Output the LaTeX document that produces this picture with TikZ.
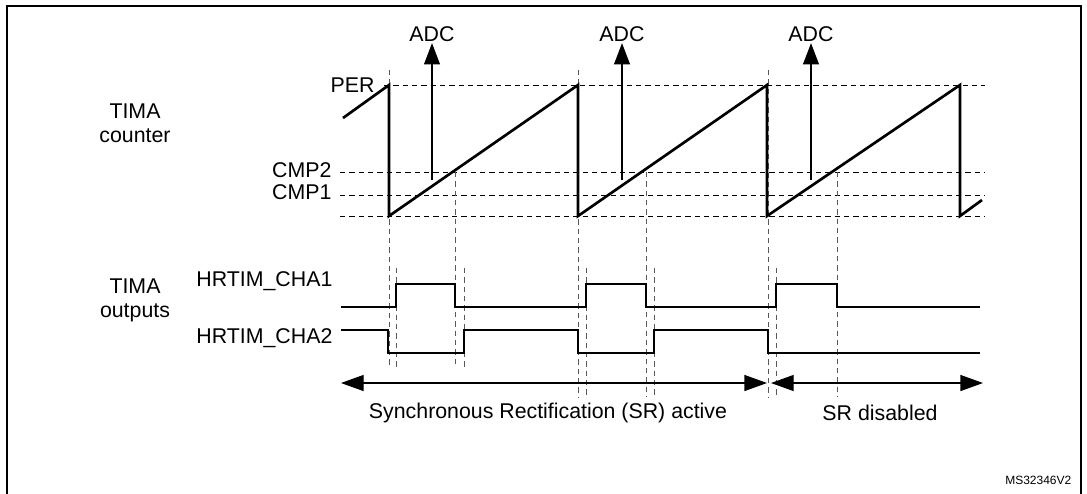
\documentclass[tikz,border=0pt]{standalone}
\usepackage{fontspec}
\setmainfont{Liberation Sans}
\usetikzlibrary{arrows.meta}
\begin{document}
\begin{tikzpicture}[x=0.75pt,y=-0.75pt,
  lab/.style={font=\fontsize{16}{18}\selectfont,inner sep=1pt},
  hd/.style={dashed,line width=0.7pt,dash pattern=on 4pt off 3pt},
  vd/.style={dashed,line width=0.7pt,gray!70!black,dash pattern=on 4pt off 3pt},
  wave/.style={line width=2pt,line join=miter},
  sig/.style={line width=1.2pt},
  adc/.style={line width=0.8pt,-{Triangle[length=16pt,width=12pt]}},
  span/.style={line width=1pt,{Triangle[length=17pt,width=12pt]}-{Triangle[length=17pt,width=12pt]}}]
\useasboundingbox (0,0) rectangle (1087,493);
\draw[line width=1.3pt] (7,6) -- (1081,6) -- (1081,500) -- (7,500) -- cycle;
% labels
\node[lab,align=center] (tc) at (135,123) {TIMA\\counter};
\node[lab,align=center] (to) at (135,300) {TIMA\\outputs};
\node[lab,anchor=east] (per) at (376,85) {PER};
\node[lab,anchor=east] (c2) at (333,170) {CMP2};
\node[lab,anchor=east] (c1) at (333,192) {CMP1};
\node[lab,anchor=east] (h1) at (334,281) {HRTIM\_CHA1};
\node[lab,anchor=east] (h2) at (334,338) {HRTIM\_CHA2};
% horizontal dashed
\coordinate (pL) at (384,85); \coordinate (pR) at (985,85);
\coordinate (c2L) at (340,172); \coordinate (c2R) at (985,172);
\coordinate (c1L) at (340,195); \coordinate (c1R) at (985,195);
\coordinate (bL) at (340,216); \coordinate (bR) at (985,216);
\draw[hd] (pL) -- (pR); \draw[hd] (c2L) -- (c2R);
\draw[hd] (c1L) -- (c1R); \draw[hd] (bL) -- (bR);
% vertical dashed
\foreach \x/\a/\b in {389/70/367, 396/268/367, 455/172/367, 464/268/367,
  578/70/397, 586/268/397, 646/172/397, 654/268/397,
  768/70/397, 776/268/397, 837/172/397}
  \draw[vd] (\x,\a) -- (\x,\b);
% sawtooth
\draw[wave] (343,118) -- (389,85) -- (389,216) -- (578,85) -- (578,216) -- (767,85) -- (767,216) -- (960,85) -- (960,216) -- (982,200);
% ADC
\foreach \x/\n in {432/1,622/2,811/3}{
  \coordinate (a\n) at (\x,180);
  \node[lab] (adc\n) at (\x,34) {ADC};
  \draw[adc] (a\n) -- (adc\n.south);
}
% signals
\draw[sig] (341,307) -- (396,307) -- (396,284) -- (455,284) -- (455,307) -- (586,307) -- (586,284) -- (646,284) -- (646,307) -- (776,307) -- (776,284) -- (837,284) -- (837,307) -- (980,307);
\draw[sig] (341,330) -- (388,330) -- (388,353) -- (464,353) -- (464,330) -- (578,330) -- (578,353) -- (654,353) -- (654,330) -- (768,330) -- (768,353) -- (980,353);
% spans
\coordinate (s1) at (341,383); \coordinate (s2) at (767,383);
\coordinate (s3) at (771,383); \coordinate (s4) at (983,383);
\draw[span] (s1) -- (s2);
\draw[span] (s3) -- (s4);
\node[lab] (sr) at (548,413) {Synchronous Rectification (SR) active};
\node[lab] (srd) at (880,413) {SR disabled};
\node[font=\fontsize{9}{10}\selectfont,anchor=east] (ms) at (1076,480) {MS32346V2};
\end{tikzpicture}
\end{document}
